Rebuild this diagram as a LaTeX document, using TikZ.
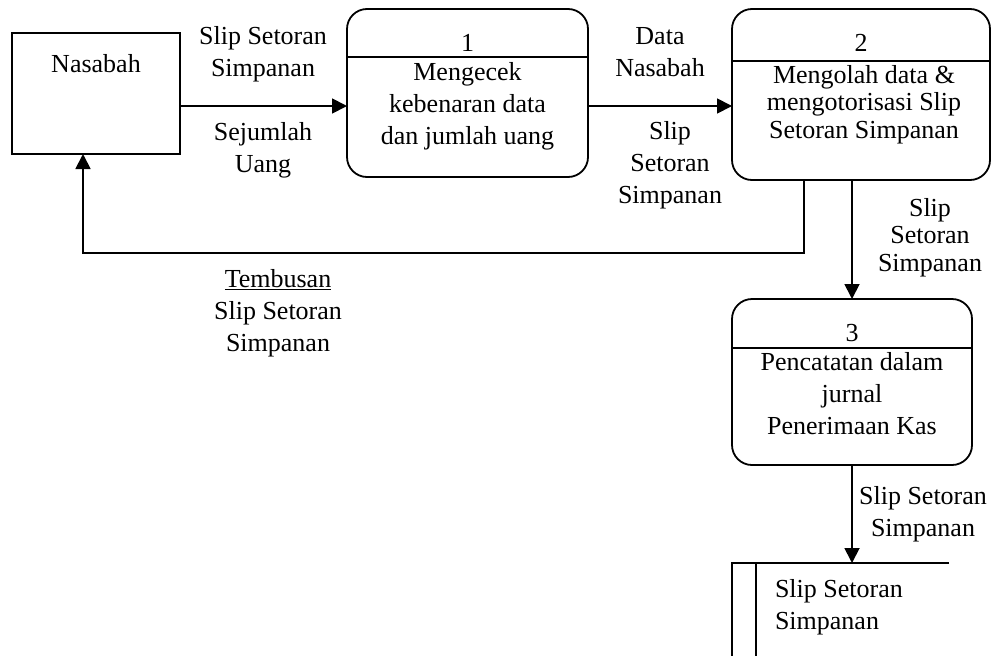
\documentclass[tikz,border=0pt]{standalone}
\usepackage{fontspec}
\setmainfont{Liberation Serif}
\usetikzlibrary{arrows.meta}
\begin{document}
\begin{tikzpicture}[x=1pt,y=-1pt,
  font=\fontsize{26}{32}\selectfont,
  every node/.style={inner sep=0pt,outer sep=0pt},
  line/.style={line width=1.8pt},
  flow/.style={line width=1.8pt,-{Triangle[length=15pt,width=15pt]}},
  entity/.style={draw,line width=1.8pt,rectangle},
  proc/.style={draw,line width=1.8pt,rectangle,rounded corners=20pt},
  txt/.style={align=center},
  tight/.style={align=center,font=\fontsize{26}{27.5}\selectfont}]
\useasboundingbox (0,0) rectangle (992,656);

% external entity
\node[entity,minimum width=168pt,minimum height=121pt] (nas) at (96,93.5) {};
\node (nastxt) at (96,64) {Nasabah};

% process 1
\node[proc,minimum width=241pt,minimum height=168pt] (p1) at (467.5,93) {};
\draw[line] (p1.west |- 0,57) -- (p1.east |- 0,57);
\node (p1n) at (467.5,43) {1};
\node[txt] (p1t) at (467.5,106.5) {Mengecek\\kebenaran data\\dan jumlah uang};

% process 2
\node[proc,minimum width=258pt,minimum height=171pt] (p2) at (861,94.5) {};
\draw[line] (p2.west |- 0,61) -- (p2.east |- 0,61);
\node (p2n) at (861,43) {2};
\node[tight] (p2t) at (864,104.5) {Mengolah data \&\\mengotorisasi Slip\\Setoran Simpanan};

% process 3
\node[proc,minimum width=240pt,minimum height=166pt] (p3) at (852,382) {};
\draw[line] (p3.west |- 0,348) -- (p3.east |- 0,348);
\node (p3n) at (852,333) {3};
\node[txt] (p3t) at (852,394) {Pencatatan dalam\\jurnal\\Penerimaan Kas};

% data store
\coordinate (st) at (852,563);
\draw[line] (949,563) -- (732,563) -- (732,656);
\draw[line] (756,563) -- (756,656);
\node[align=left,anchor=west] (stt) at (775,607) {Slip Setoran\\Simpanan};

% data flows
\draw[flow] ([yshift=-13pt]p1.west -| nas.east) -- ([yshift=-13pt]p1.west);
\draw[flow] ([yshift=-13pt]p1.east) -- ([yshift=-13pt]p1.east -| p2.west);
\draw[flow] (p3.north |- p2.south) -- (p3.north);
\draw[flow] (p3.south) -- (st);
\draw[flow] ([xshift=-57pt]p2.south) |- ([xshift=-13pt,yshift=-99pt]nas.south) -- ([xshift=-13pt]nas.south);

% flow labels
\node[txt] (l1) at (263,54.5) {Slip Setoran\\Simpanan};
\node[txt] (l2) at (263,150.5) {Sejumlah\\Uang};
\node[txt] (l3) at (660,52) {Data\\Nasabah};
\node[txt] (l4) at (670,165) {Slip\\Setoran\\Simpanan};
\node[tight] (l5) at (930,237.5) {Slip\\Setoran\\Simpanan};
\node[txt] (l6) at (923,514) {Slip Setoran\\Simpanan};
\node[txt] (l7) at (278,313) {\underline{Tembusan}\\Slip Setoran\\Simpanan};
\end{tikzpicture}
\end{document}
